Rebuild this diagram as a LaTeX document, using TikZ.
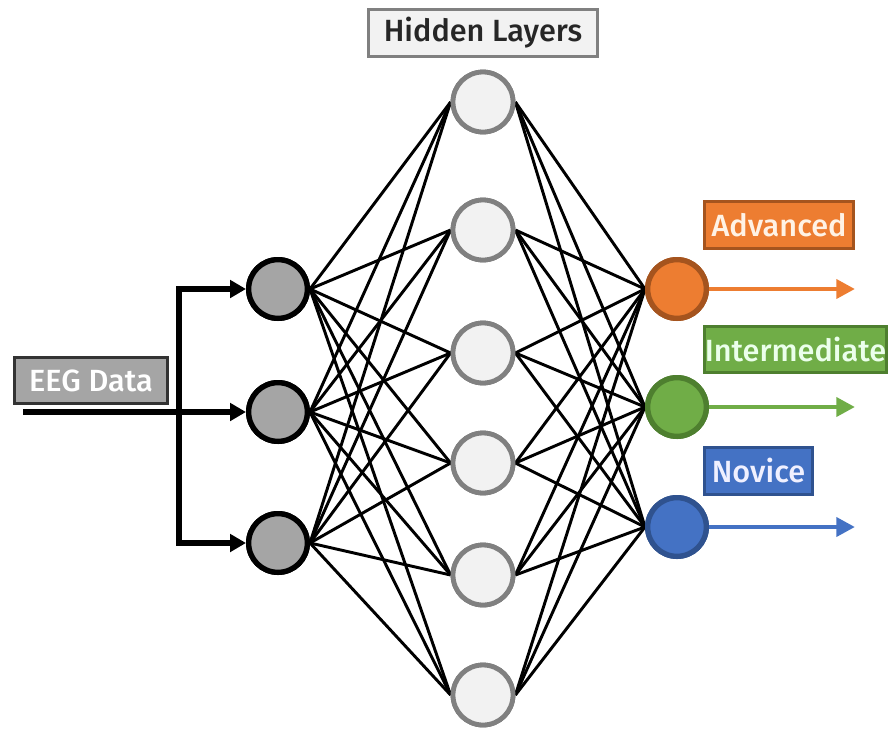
\documentclass[tikz,border=0pt]{standalone}
\usepackage{fontspec}
\setmainfont{Fira Sans}[UprightFont={Fira Sans Medium}]
\usetikzlibrary{arrows.meta}
\definecolor{ingray}{HTML}{A5A5A5}
\definecolor{hidfill}{HTML}{F2F2F2}
\definecolor{hidline}{HTML}{808080}
\definecolor{orfill}{HTML}{ED7D31}
\definecolor{orline}{HTML}{A5541E}
\definecolor{grfill}{HTML}{70AD47}
\definecolor{grline}{HTML}{4E7F2F}
\definecolor{blfill}{HTML}{4472C4}
\definecolor{blline}{HTML}{2F528F}
\tikzset{
  inneuron/.style={circle, draw=black, fill=ingray, line width=4pt, minimum size=44pt, inner sep=0pt},
  hidneuron/.style={circle, draw=hidline, fill=hidfill, line width=3.6pt, minimum size=45pt, inner sep=0pt},
  outneuron/.style={circle, line width=4pt, minimum size=44pt, inner sep=0pt},
  conn/.style={line width=2.2pt, black},
  busline/.style={line width=4.2pt, black},
  busarrow/.style={line width=4.2pt, black, -{Triangle[length=12pt,width=13pt]}},
  outarrow/.style={line width=3.6pt, -{Triangle[length=14pt,width=14pt]}},
  labbox/.style={draw, line width=2.2pt, font=\fontsize{23}{25}\selectfont, inner sep=0pt, minimum height=35pt}
}
\begin{document}
\begin{tikzpicture}[x=0.75pt,y=-0.75pt]
\useasboundingbox (0,0) rectangle (889,729);
% input neurons
\node[inneuron] (i1) at (278,289) {};
\node[inneuron] (i2) at (278,412) {};
\node[inneuron] (i3) at (278,543) {};
% hidden neurons
\node[hidneuron] (h1) at (483,102) {};
\node[hidneuron] (h2) at (483,230) {};
\node[hidneuron] (h3) at (483,353) {};
\node[hidneuron] (h4) at (483,463) {};
\node[hidneuron] (h5) at (483,575) {};
\node[hidneuron] (h6) at (483,695) {};
% output neurons
\node[outneuron, draw=orline, fill=orfill] (o1) at (677,289) {};
\node[outneuron, draw=grline, fill=grfill] (o2) at (677,407) {};
\node[outneuron, draw=blline, fill=blfill] (o3) at (677,527) {};
% connections
\foreach \i in {1,2,3}{
  \foreach \h in {1,...,6}{
    \draw[conn] (i\i.east) -- (h\h.west);
    \draw[conn] (h\h.east) -- (o\i.west);
  }
}
% redraw neurons on top of connections
\node[inneuron] at (278,289) {};
\node[inneuron] at (278,412) {};
\node[inneuron] at (278,543) {};
\foreach \y in {102,230,353,463,575,695}{\node[hidneuron] at (483,\y) {};}
\node[outneuron, draw=orline, fill=orfill] at (677,289) {};
\node[outneuron, draw=grline, fill=grfill] at (677,407) {};
\node[outneuron, draw=blline, fill=blfill] at (677,527) {};
% input bus
\coordinate (src) at (23,412);
\coordinate (jn) at (179,412);
\draw[busline] (src) -- (jn);
\draw[busarrow] (jn) |- (i1.west);
\draw[busarrow] (jn) -- (i2.west);
\draw[busarrow] (jn) |- (i3.west);
% output arrows
\coordinate (e1) at (855,289);
\coordinate (e2) at (855,407);
\coordinate (e3) at (855,527);
\draw[outarrow, orfill] (o1.east) -- (e1);
\draw[outarrow, grfill] (o2.east) -- (e2);
\draw[outarrow, blfill] (o3.east) -- (e3);
% labels
\node[labbox, draw=black!80, fill=ingray, text=white, minimum width=115pt] (eeg) at (91,380.5) {EEG Data};
\node[labbox, draw=hidline, fill=hidfill, text=black!85, minimum width=172pt] (hl) at (483,33) {Hidden Layers};
\node[labbox, draw=orline, fill=orfill, text=orange!10, minimum width=112pt] (adv) at (779,225) {Advanced};
\node[labbox, draw=grline, fill=grfill, text=green!8, minimum width=137pt] (int) at (795.5,349.5) {Intermediate};
\node[labbox, draw=blline, fill=blfill, text=blue!6, minimum width=81pt] (nov) at (758.5,471) {Novice};
\end{tikzpicture}
\end{document}
